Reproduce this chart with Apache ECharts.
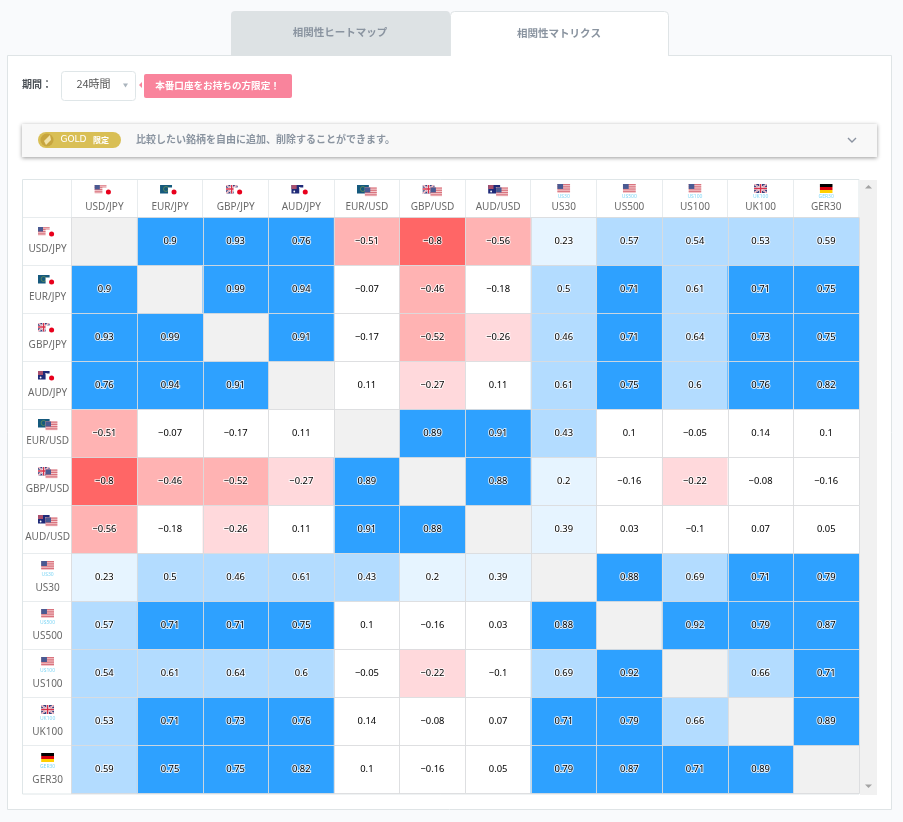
<!DOCTYPE html>
<html lang="ja"><head><meta charset="utf-8">
<style>html,body{margin:0;padding:0;background:#f9fafc;overflow:hidden}#c{width:903px;height:822px}</style>
<script src="https://cdn.jsdelivr.net/npm/echarts@6/dist/echarts.min.js"></script>
</head><body><div id="c"></div>
<script>
const symbols = ['USD/JPY','EUR/JPY','GBP/JPY','AUD/JPY','EUR/USD','GBP/USD','AUD/USD','US30','US500','US100','UK100','GER30'];
const rowUSDJPY = [null,0.9,0.93,0.76,-0.51,-0.8,-0.56,0.23,0.57,0.54,0.53,0.59];
const rowEURJPY = [0.9,null,0.99,0.94,-0.07,-0.46,-0.18,0.5,0.71,0.61,0.71,0.75];
const rowGBPJPY = [0.93,0.99,null,0.91,-0.17,-0.52,-0.26,0.46,0.71,0.64,0.73,0.75];
const rowAUDJPY = [0.76,0.94,0.91,null,0.11,-0.27,0.11,0.61,0.75,0.6,0.76,0.82];
const rowEURUSD = [-0.51,-0.07,-0.17,0.11,null,0.89,0.91,0.43,0.1,-0.05,0.14,0.1];
const rowGBPUSD = [-0.8,-0.46,-0.52,-0.27,0.89,null,0.88,0.2,-0.16,-0.22,-0.08,-0.16];
const rowAUDUSD = [-0.56,-0.18,-0.26,0.11,0.91,0.88,null,0.39,0.03,-0.1,0.07,0.05];
const rowUS30   = [0.23,0.5,0.46,0.61,0.43,0.2,0.39,null,0.88,0.69,0.71,0.79];
const rowUS500  = [0.57,0.71,0.71,0.75,0.1,-0.16,0.03,0.88,null,0.92,0.79,0.87];
const rowUS100  = [0.54,0.61,0.64,0.6,-0.05,-0.22,-0.1,0.69,0.92,null,0.66,0.71];
const rowUK100  = [0.53,0.71,0.73,0.76,0.14,-0.08,0.07,0.71,0.79,0.66,null,0.89];
const rowGER30  = [0.59,0.75,0.75,0.82,0.1,-0.16,0.05,0.79,0.87,0.71,0.89,null];
const rows = [rowUSDJPY,rowEURJPY,rowGBPJPY,rowAUDJPY,rowEURUSD,rowGBPUSD,rowAUDUSD,rowUS30,rowUS500,rowUS100,rowUK100,rowGER30];
const tabs = ['相関性ヒートマップ','相関性マトリクス'];

const FONT = '"Noto Sans","Noto Sans CJK JP",sans-serif';
const CJK = '"Noto Sans CJK JP","Noto Sans",sans-serif';
const gridL=71.6,gridT=217.5,gridW=787.4,gridH=576,headT=180,tableL=23;
const cw=gridW/12,ch=gridH/12;

const flagParts = {
 US:(x,y,w,h)=>{let s=`<rect x="${x}" y="${y}" width="${w}" height="${h}" fill="#f3c9cc"/>`;
   for(let i=0;i<4;i++)s+=`<rect x="${x}" y="${y+i*h/4}" width="${w}" height="${h/8}" fill="#d9737e"/>`;
   return s+`<rect x="${x}" y="${y}" width="${w*.45}" height="${h*.55}" fill="#4a5a92"/>`;},
 EU:(x,y,w,h)=>`<rect x="${x}" y="${y}" width="${w}" height="${h}" fill="#15597d"/><circle cx="${x+w*.5}" cy="${y+h*.5}" r="${h*.28}" fill="none" stroke="#7fa04a" stroke-width=".6"/>`,
 JP:(x,y,w,h)=>`<rect x="${x}" y="${y}" width="${w}" height="${h}" fill="#fff"/><circle cx="${x+w/2}" cy="${y+h/2}" r="${h*.28}" fill="#e8001c"/>`,
 UK:(x,y,w,h)=>`<rect x="${x}" y="${y}" width="${w}" height="${h}" fill="#39407c"/><path d="M${x} ${y}L${x+w} ${y+h}M${x+w} ${y}L${x} ${y+h}" stroke="#fff" stroke-width="1.6"/><path d="M${x} ${y}L${x+w} ${y+h}M${x+w} ${y}L${x} ${y+h}" stroke="#d8415a" stroke-width=".6"/><path d="M${x+w/2} ${y}V${y+h}M${x} ${y+h/2}H${x+w}" stroke="#fff" stroke-width="2.6"/><path d="M${x+w/2} ${y}V${y+h}M${x} ${y+h/2}H${x+w}" stroke="#d8314a" stroke-width="1.4"/>`,
 AU:(x,y,w,h)=>`<rect x="${x}" y="${y}" width="${w}" height="${h}" fill="#1f2a78"/><rect x="${x}" y="${y}" width="${w*.45}" height="${h*.5}" fill="#a9506e"/><circle cx="${x+w*.7}" cy="${y+h*.35}" r=".7" fill="#fff"/><circle cx="${x+w*.85}" cy="${y+h*.6}" r=".7" fill="#fff"/><circle cx="${x+w*.25}" cy="${y+h*.78}" r=".9" fill="#fff"/>`,
 DE:(x,y,w,h)=>`<rect x="${x}" y="${y}" width="${w}" height="${h/3}" fill="#000"/><rect x="${x}" y="${y+h/3}" width="${w}" height="${h/3}" fill="#d8000c"/><rect x="${x}" y="${y+2*h/3}" width="${w}" height="${h/3}" fill="#ffcf00"/>`
};
const uri=(w,h,b)=>({image:'data:image/svg+xml;charset=utf-8,'+encodeURIComponent(`<svg xmlns="http://www.w3.org/2000/svg" width="${w}" height="${h}" viewBox="0 0 ${w} ${h}">${b}</svg>`)});
const pair=(a,b)=>uri(20,12,flagParts[a](0,0,12,9)+flagParts[b](8,3,12,9));
const single=a=>uri(13,9,flagParts[a](0,0,13,9));
const flagOf=['US|JP','EU|JP','UK|JP','AU|JP','EU|US','UK|US','AU|US','US','US','US','UK','DE'];
function mkRich(pairFlagLh,indexFlagLh,tinyLh,pairNameLh,indexNameLh){
  const rich={n:{fontFamily:FONT,fontSize:10,color:'#6a6a6a',lineHeight:pairNameLh,align:'center'},
    m:{fontFamily:FONT,fontSize:10,color:'#6a6a6a',lineHeight:indexNameLh,align:'center'},
    t:{fontFamily:FONT,fontSize:5,color:'#7fd6f5',lineHeight:tinyLh,align:'center'},
    s:{fontSize:1,lineHeight:4}};
  flagOf.forEach((f,i)=>{const p=f.split('|');
    rich['f'+i]=p.length>1?{width:20,height:12,lineHeight:pairFlagLh,align:'center',backgroundColor:pair(p[0],p[1])}
                          :{width:13,height:9,lineHeight:indexFlagLh,align:'center',backgroundColor:single(p[0])};});
  return rich;
}
const xLabel=v=>{const i=symbols.indexOf(v);
  return flagOf[i].includes('|')?`{f${i}| }\n{n|${v}}`:`{f${i}| }\n{t|${v}}\n{m|${v}}`;};
const yLabel=v=>{const i=symbols.indexOf(v);
  return flagOf[i].includes('|')?`{f${i}| }\n{n|${v}}`:`{s| }\n{f${i}| }\n{t|${v}}\n{m|${v}}`;};

const cells=[];
rows.forEach((r,y)=>r.forEach((v,x)=>{if(v!==null)cells.push([x,y,v]);}));

const g=[];
const rect=(x,y,w,h,fill,stroke,r,extra)=>g.push(Object.assign({type:'rect',silent:true,shape:{x,y,width:w,height:h,r:r||0},style:{fill:fill,stroke:stroke||null,lineWidth:1}},extra||{}));
const txt=(x,y,t,size,col,weight,font,align)=>g.push({type:'text',silent:true,z:5,x,y,style:{text:t,fontSize:size,fill:col,fontWeight:weight||'normal',fontFamily:font||CJK,textAlign:align||'center',textVerticalAlign:'middle'}});
const line=(x1,y1,x2,y2,c)=>g.push({type:'line',silent:true,z:2,shape:{x1,y1,x2,y2},style:{stroke:c,lineWidth:1}});
// panel + tabs
rect(7.5,55.5,884,754,'#fff','#dfe4e6');
rect(231,11,219,45,'#dde2e4',null,[4,4,0,0]);
rect(450.5,11.5,218,44,'#fff','#dfe4e6',[4,4,0,0]);
rect(451,50,217,7,'#fff');
txt(340,32,tabs[0],10.5,'#8a94a0','bold');
txt(559,33,tabs[1],10.5,'#8a94a0','bold');
// period row
txt(37,84,'期間：',10,'#4a4f55','bold');
rect(61.5,71.5,74,29,'#fff','#dfe6e8',3);
txt(93.5,84,'24時間',11,'#555');
g.push({type:'polygon',silent:true,shape:{points:[[123,83.5],[128,83.5],[125.5,87.5]]},style:{fill:'#aab4bd'}});
g.push({type:'polygon',silent:true,shape:{points:[[139,85],[142,82],[142,88]]},style:{fill:'#f9849c'}});
rect(144,74,148,24,'#f9849c',null,2);
txt(217.5,85.5,'本番口座をお持ちの方限定！',9.6,'#fff','bold');
// gold bar
rect(22,124,855,33,'#f8f8f8',null,0,{style:{fill:'#f8f8f8',shadowBlur:4,shadowOffsetY:1,shadowColor:'rgba(0,0,0,.4)'}});
rect(38,132,83,16,'#d9bf55',null,8);
g.push({type:'circle',silent:true,shape:{cx:47,cy:140,r:6.5},style:{fill:'#c7a53e'}});
g.push({type:'polygon',silent:true,shape:{points:[[50,135],[51,140],[46,145],[44,141]]},style:{fill:'#f1e3a8'}});
txt(73.5,140,'GOLD',9,'#fff','normal','"DejaVu Sans",sans-serif');
txt(101,139.5,'限定',8,'#fff','bold');
txt(136,139.5,'比較したい銘柄を自由に追加、削除することができます。',10,'#8a94a0','bold',CJK,'left');
g.push({type:'polyline',silent:true,shape:{points:[[848,138],[852,142],[856,138]]},style:{stroke:'#8a92a0',lineWidth:1.4,fill:null}});
// table frame, header and first column
rect(tableL-.5,headT-.5,gridL+gridW-tableL+.5,gridT+gridH-headT+1,'#fff','#dfe6e8');
for(let i=0;i<12;i++){
  const lx=Math.floor(gridL+i*cw)+.5;
  const ly=Math.floor(gridT+i*ch)+.5;
  line(lx,headT,lx,gridT,'#e8ecee');
  line(tableL,ly,gridL,ly,'#e8ecee');
}
// scrollbar
rect(860,180,17,615,'#f1f1f1');
g.push({type:'polygon',silent:true,shape:{points:[[865,188.5],[872,188.5],[868.5,185]]},style:{fill:'#a3a3a3'}});
g.push({type:'polygon',silent:true,shape:{points:[[865,784.5],[872,784.5],[868.5,788]]},style:{fill:'#a3a3a3'}});

const gridLine={show:true,lineStyle:{color:'rgba(218,220,222,.9)',width:1}};
const chart=echarts.init(document.getElementById('c'),null,{renderer:'canvas'});
chart.setOption({
  animation:false,backgroundColor:'#f9fafc',
  grid:{left:gridL,top:gridT,width:gridW,height:gridH,show:true,backgroundColor:'#f1f1f1',borderWidth:0,z:3},
  xAxis:{type:'category',position:'top',data:symbols,z:6,
    axisLine:{show:false},axisTick:{show:false},splitLine:gridLine,
    axisLabel:{interval:0,margin:3,formatter:xLabel,rich:mkRich(18,12,5,15,15)}},
  yAxis:{type:'category',inverse:true,data:symbols,z:6,
    axisLine:{show:false},axisTick:{show:false},splitLine:gridLine,
    axisLabel:{interval:0,margin:24,align:'center',formatter:yLabel,rich:mkRich(16,12,6,18,22)}},
  visualMap:{show:false,type:'piecewise',dimension:2,seriesIndex:0,pieces:[
    {min:0.7,color:'#2ea1ff'},{min:0.4,lt:0.7,color:'#b3dcff'},{min:0.2,lt:0.4,color:'#e6f4ff'},
    {gt:-0.2,lt:0.2,color:'#ffffff'},{gt:-0.4,lte:-0.2,color:'#ffd9dc'},{gt:-0.7,lte:-0.4,color:'#ffb3b3'},{lte:-0.7,color:'#ff6666'}]},
  graphic:{elements:g},
  series:[{type:'heatmap',data:cells,z:4,
    itemStyle:{borderWidth:0},
    emphasis:{disabled:true},
    label:{show:true,fontFamily:FONT,fontSize:9.4,color:'#000',textBorderColor:'rgba(255,255,255,.8)',textBorderWidth:2,
      formatter:p=>String(p.value[2]).replace('-','−')}}]
});
</script></body></html>
